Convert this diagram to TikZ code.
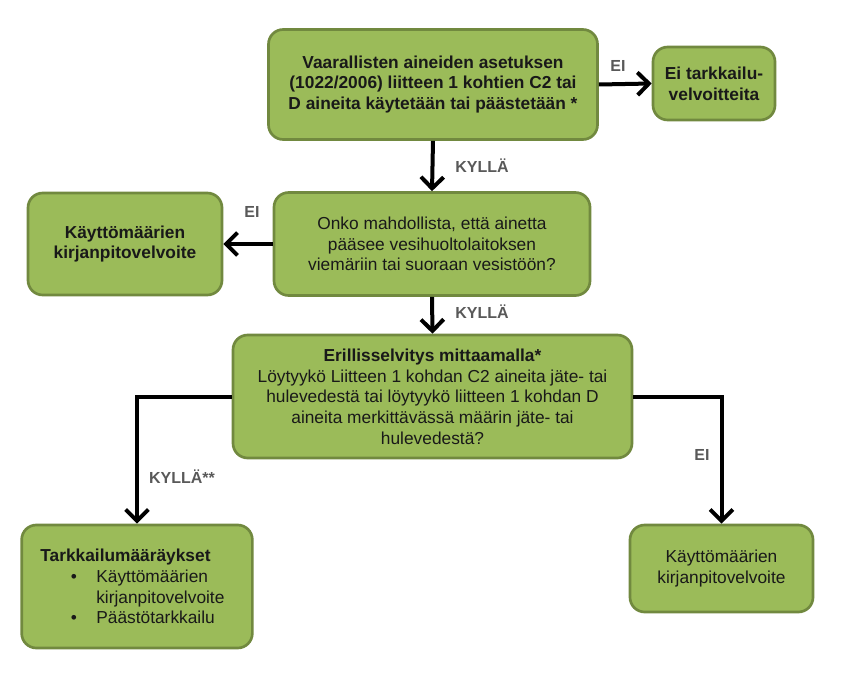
\documentclass[tikz,border=0pt]{standalone}
\usepackage{fontspec}
\setmainfont{Liberation Sans}
\usepackage{xcolor}
\usetikzlibrary{arrows.meta, positioning, calc}
\definecolor{LeafGreen}{HTML}{9BBB59}
\definecolor{LeafEdge}{HTML}{71893F}
\definecolor{LabelGray}{HTML}{595959}

\begin{document}
\begin{tikzpicture}[
    x=0.75pt, y=-0.75pt,
    flow_box/.style={
        draw=LeafEdge,
        line width=2pt,
        fill=LeafGreen,
        rounded corners=11pt,
        align=center,
        inner sep=2pt,
        text=black!90,
        font=\fontsize{13}{15.5}\selectfont
    },
    arrow_line/.style={
        -{Straight Barb[length=8.5pt, width=17pt]},
        line width=3pt,
        color=black
    },
    answer_label/.style={
        font=\fontsize{12}{14}\selectfont\bfseries,
        text=LabelGray
    }
]
\useasboundingbox (0,0) rectangle (857,699);

% =========================
% FIRST QUESTION
% =========================
\node[flow_box, font=\fontsize{13}{15.5}\selectfont\bfseries,
      minimum width=246.75pt, minimum height=82.5pt]
    (asetus) at (433,84.5)
    {Vaarallisten aineiden asetuksen\\(1022/2006) liitteen 1 kohtien C2 tai\\D aineita käytetään tai päästetään *};

\node[flow_box, font=\fontsize{13}{15.5}\selectfont\bfseries,
      minimum width=91.5pt, minimum height=54.75pt]
    (eiTark) at (714,83.5)
    {Ei tarkkailu-\\velvoitteita};

% =========================
% SECOND QUESTION
% =========================
\node[flow_box, minimum width=237pt, minimum height=77.25pt]
    (viemari) at (432,244)
    {Onko mahdollista, että ainetta\\pääsee vesihuoltolaitoksen\\viemäriin tai suoraan vesistöön?};

\node[flow_box, font=\fontsize{13}{15.5}\selectfont\bfseries,
      minimum width=145.5pt, minimum height=76.5pt]
    (kirjaVasen) at (125,244)
    {Käyttömäärien\\kirjanpitovelvoite};

% =========================
% THIRD QUESTION
% =========================
\node[flow_box, minimum width=299.25pt, minimum height=92.25pt]
    (selvitys) at (432.5,396.5)
    {\textbf{Erillisselvitys mittaamalla*}\\
     Löytyykö Liitteen 1 kohdan C2 aineita jäte- tai\\
     hulevedestä tai löytyykö liitteen 1 kohdan D\\
     aineita merkittävässä määrin jäte- tai\\
     hulevedestä?};

% =========================
% OUTCOMES
% =========================
\node[flow_box, align=left, text width=145pt, inner xsep=14pt,
      minimum height=92.25pt]
    (maaraykset) at (137,586.5)
    {\textbf{Tarkkailumääräykset}\\
     \hspace*{23pt}\makebox[19pt][l]{\textbullet}Käyttömäärien\\
     \hspace*{42pt}kirjanpitovelvoite\\
     \hspace*{23pt}\makebox[19pt][l]{\textbullet}Päästötarkkailu};

\node[flow_box, minimum width=137.25pt, minimum height=65.25pt]
    (kirjaOikea) at (721.5,568.5)
    {Käyttömäärien\\kirjanpitovelvoite};

% =========================
% ARROWS
% =========================
\draw[arrow_line] (asetus.east) -- (eiTark.west);
\draw[arrow_line] (asetus.south) -- (viemari.north);
\draw[arrow_line] (viemari.west) -- (kirjaVasen.east);
\draw[arrow_line] (viemari.south) -- (selvitys.north);
\draw[arrow_line] (selvitys.west) -| (maaraykset.north);
\draw[arrow_line] (selvitys.east) -| (kirjaOikea.north);

% answer labels
\node[answer_label] (ei1) at (618,66) {EI};
\node[answer_label] (kylla1) at (482,166) {KYLLÄ};
\node[answer_label] (ei2) at (252,212) {EI};
\node[answer_label] (kylla2) at (482,312) {KYLLÄ};
\node[answer_label] (kylla3) at (182,477) {KYLLÄ**};
\node[answer_label] (ei3) at (702,455) {EI};

\end{tikzpicture}
\end{document}
